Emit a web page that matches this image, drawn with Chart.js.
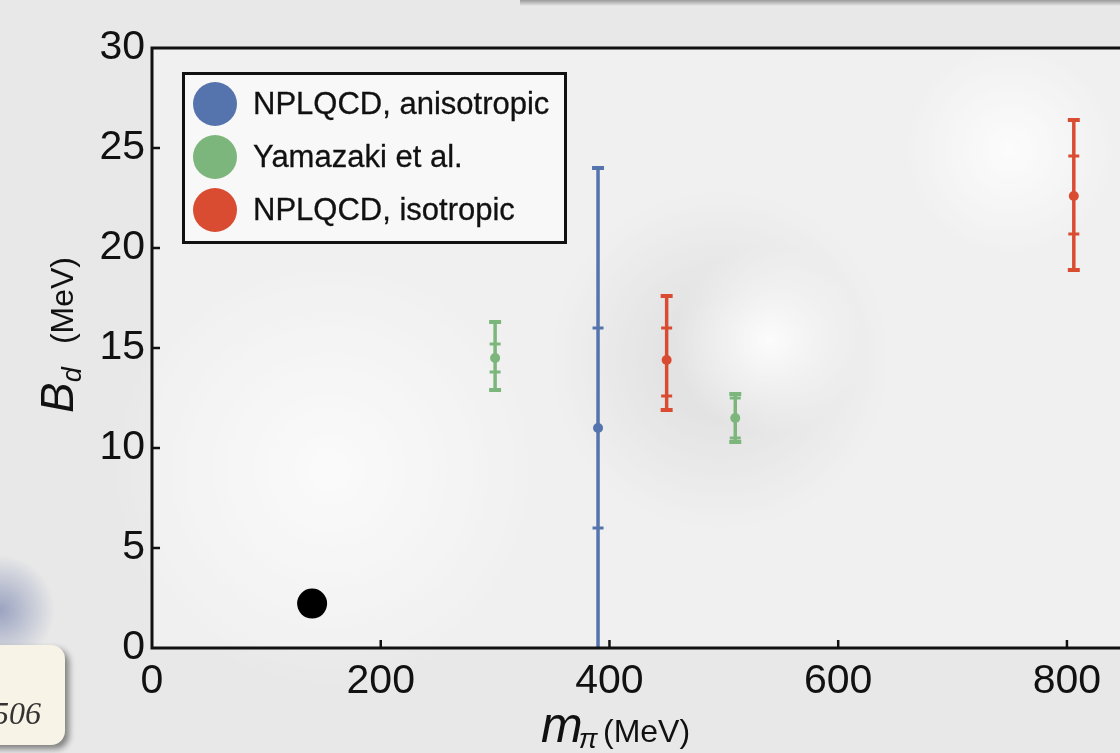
<!DOCTYPE html>
<html lang="en">
<head>
<meta charset="UTF-8">
<title>Deuteron binding energy vs pion mass</title>
<script src="https://cdn.jsdelivr.net/npm/chart.js@4.4.1/dist/chart.umd.min.js"></script>
<style>
    html, body { margin: 0; padding: 0; overflow: hidden; }
    body {
        width: 1120px; height: 753px; position: relative;
        font-family: "Liberation Sans", Arial, sans-serif;
        background:
            radial-gradient(circle at 770px 340px, rgba(255,255,255,0.9) 0, rgba(255,255,255,0) 95px),
            radial-gradient(circle at 1010px 150px, rgba(255,255,255,0.8) 0, rgba(255,255,255,0) 110px),
            radial-gradient(circle at 720px 360px, rgba(205,205,205,0.7) 60px, rgba(205,205,205,0) 170px),
            radial-gradient(circle at 330px 470px, rgba(255,255,255,0.7) 0, rgba(255,255,255,0) 220px),
            radial-gradient(circle at 0px 610px, rgba(140,150,185,0.85) 0, rgba(150,160,190,0) 55px),
            #e8e8e8;
    }
    .topstrip { position: absolute; left: 520px; top: 0; width: 600px; height: 6px;
        background: linear-gradient(#9a9a9a, rgba(200,200,200,0)); }
    .wrap { position: absolute; left: 0; top: 0; width: 1170px; height: 753px; }
    /* legend box inside the plot */
    .legend {
        position: absolute; left: 182px; top: 72px; width: 379px; height: 164px;
        border: 3px solid #111; background: rgba(255,255,255,0.5);
        padding-top: 2px;
    }
    .legend .row { height: 53px; display: flex; align-items: center; }
    .legend .dot { width: 44px; height: 44px; border-radius: 50%; margin-left: 8px; margin-right: 16px; }
    .legend .txt { font-size: 31px; color: #111; white-space: nowrap; -webkit-text-stroke: 0.3px #111; }
    .slide {
        position: absolute; left: -40px; top: 645px; width: 105px; height: 100px;
        border-radius: 14px; background: #f8f3e7;
        box-shadow: 4px 4px 6px rgba(0,0,0,0.45);
    }
    .slide span {
        position: absolute; right: 24px; top: 50px;
        font: italic 32px "Liberation Serif", "DejaVu Serif", serif; color: #333;
    }
</style>
</head>
<body>
<div class="topstrip"></div>
<div class="wrap"><canvas id="bd"></canvas></div>
<div class="legend" id="legend"></div>
<div class="slide"><span>506</span></div>
<script>
    // ---- data ----
    const seriesNames = ['NPLQCD, anisotropic', 'Yamazaki et al.', 'NPLQCD, isotropic'];
    const seriesColors = ['#5574ad', '#7db67c', '#d94c32'];

    // NPLQCD anisotropic
    const anisoMass = [390];
    const anisoBd = [11.0];
    const anisoStat = [[6.0, 16.0]];
    const anisoTot = [[-2.0, 24.0]];

    // Yamazaki et al.
    const yamaMass = [300, 510];
    const yamaBd = [14.5, 11.5];
    const yamaStat = [[13.8, 15.2], [10.5, 12.5]];
    const yamaTot = [[12.9, 16.3], [10.3, 12.7]];

    // NPLQCD isotropic
    const isoMass = [450, 806];
    const isoBd = [14.4, 22.6];
    const isoStat = [[12.6, 16.0], [20.7, 24.6]];
    const isoTot = [[11.9, 17.6], [18.9, 26.4]];

    // physical point
    const physMass = [140];
    const physBd = [2.22];

    const xTickStep = 200;
    const yTickStep = 5;

    const pts = (xs, ys) => xs.map((v, i) => ({ x: v, y: ys[i] }));

    const FONT = '"Liberation Sans", Arial, sans-serif';

    // legend (html)
    document.getElementById('legend').innerHTML = seriesNames.map((n, i) =>
        `<div class="row"><div class="dot" style="background:${seriesColors[i]}"></div><span class="txt">${n}</span></div>`
    ).join('');

    /************  PLUGINS  ************/
    const plotBg = {
        id: 'plotBg',
        beforeDraw(chart) {
            const { ctx, chartArea: a } = chart;
            ctx.save();
            ctx.fillStyle = 'rgba(255,255,255,0.35)';
            ctx.fillRect(a.left, a.top, a.right - a.left, a.bottom - a.top);
            ctx.restore();
        }
    };

    const errorBars = {
        id: 'errorBars',
        beforeDatasetsDraw(chart) {
            const { ctx, chartArea: a, scales: { x, y } } = chart;
            ctx.save();
            ctx.beginPath();
            ctx.rect(a.left, a.top, a.right - a.left, a.bottom - a.top);
            ctx.clip();
            const seg = (x1, y1, x2, y2) => { ctx.beginPath(); ctx.moveTo(x1, y1); ctx.lineTo(x2, y2); ctx.stroke(); };
            chart.data.datasets.forEach(ds => {
                if (!ds.stat) return;
                ctx.strokeStyle = ds.borderColor;
                ds.data.forEach((p, j) => {
                    const px = x.getPixelForValue(p.x);
                    const [tLo, tHi] = ds.tot[j];
                    const [sLo, sHi] = ds.stat[j];
                    ctx.lineWidth = 3.5;
                    seg(px, y.getPixelForValue(tLo), px, y.getPixelForValue(tHi));
                    // outer caps
                    ctx.lineWidth = 4;
                    [tLo, tHi].forEach(v => seg(px - 6, y.getPixelForValue(v), px + 6, y.getPixelForValue(v)));
                    // inner caps
                    ctx.lineWidth = 3;
                    [sLo, sHi].forEach(v => seg(px - 5.5, y.getPixelForValue(v), px + 5.5, y.getPixelForValue(v)));
                });
            });
            ctx.restore();
        }
    };

    const frame = {
        id: 'frame',
        afterDraw(chart) {
            const { ctx, chartArea: a, scales: { x, y } } = chart;
            ctx.save();
            ctx.strokeStyle = '#111';
            ctx.lineWidth = 3;
            ctx.beginPath();
            ctx.moveTo(a.right + 5, a.top);
            ctx.lineTo(a.left, a.top);
            ctx.lineTo(a.left, a.bottom);
            ctx.lineTo(a.right + 5, a.bottom);
            ctx.stroke();
            // inward ticks
            ctx.lineWidth = 2.5;
            x.ticks.forEach(t => {
                if (t.value <= x.min) return;
                const px = x.getPixelForValue(t.value);
                ctx.beginPath(); ctx.moveTo(px, a.bottom); ctx.lineTo(px, a.bottom - 8); ctx.stroke();
            });
            y.ticks.forEach(t => {
                if (t.value <= y.min || t.value >= y.max) return;
                const py = y.getPixelForValue(t.value);
                ctx.beginPath(); ctx.moveTo(a.left, py); ctx.lineTo(a.left + 8, py); ctx.stroke();
            });

            // axis titles
            ctx.fillStyle = '#111';
            ctx.textBaseline = 'alphabetic';
            ctx.textAlign = 'left';
            // y: B_d (MeV)
            ctx.save();
            ctx.translate(73, 413);
            ctx.rotate(-Math.PI / 2);
            ctx.font = 'italic 46px ' + FONT;
            ctx.fillText('B', 0, 0);
            let w = ctx.measureText('B').width;
            ctx.font = 'italic 27px ' + FONT;
            ctx.fillText('d', w, 8);
            ctx.font = '32px ' + FONT;
            ctx.textAlign = 'right';
            ctx.fillText('(MeV)', 156, 0);
            ctx.restore();
            // x: m_pi (MeV)
            ctx.font = 'italic 50px ' + FONT;
            ctx.fillText('m', 541, 742);
            w = ctx.measureText('m').width;
            ctx.font = 'italic 28px ' + FONT;
            ctx.fillText('\u03c0', 541 + w - 4, 748);
            ctx.font = '32px ' + FONT;
            ctx.fillText('(MeV)', 603, 742);
            ctx.restore();
        }
    };

    /************  CHART  ************/
    function renderChart() {
        const mk = (i, xs, ys, stat, tot) => ({
            label: seriesNames[i],
            data: pts(xs, ys),
            stat, tot,
            borderColor: seriesColors[i],
            backgroundColor: seriesColors[i],
            pointRadius: 5,
            borderWidth: 0
        });
        new Chart(document.getElementById('bd'), {
            type: 'scatter',
            data: {
                datasets: [
                    mk(0, anisoMass, anisoBd, anisoStat, anisoTot),
                    mk(1, yamaMass, yamaBd, yamaStat, yamaTot),
                    mk(2, isoMass, isoBd, isoStat, isoTot),
                    {
                        label: 'physical',
                        data: pts(physMass, physBd),
                        backgroundColor: '#000',
                        borderWidth: 0,
                        pointRadius: 15
                    }
                ]
            },
            options: {
                responsive: true,
                maintainAspectRatio: false,
                animation: false,
                events: [],
                layout: { padding: { left: 0, top: 48, right: 10, bottom: 0 } },
                plugins: { legend: { display: false }, tooltip: { enabled: false } },
                scales: {
                    x: {
                        type: 'linear', min: 0, max: 877,
                        grid: { display: false, drawTicks: false },
                        border: { display: false },
                        ticks: { stepSize: xTickStep, includeBounds: false, padding: 9, maxRotation: 0,
                                 color: '#111', font: { family: FONT, size: 41 } },
                        afterFit: s => { s.height = 105; }
                    },
                    y: {
                        type: 'linear', min: 0, max: 30,
                        grid: { display: false, drawTicks: false },
                        border: { display: false },
                        ticks: { stepSize: yTickStep, padding: 7,
                                 color: '#111', font: { family: FONT, size: 41 } },
                        afterFit: s => { s.width = 152; }
                    }
                }
            },
            plugins: [plotBg, errorBars, frame]
        });
    }

    window.addEventListener('DOMContentLoaded', renderChart);
</script>
</body>
</html>
